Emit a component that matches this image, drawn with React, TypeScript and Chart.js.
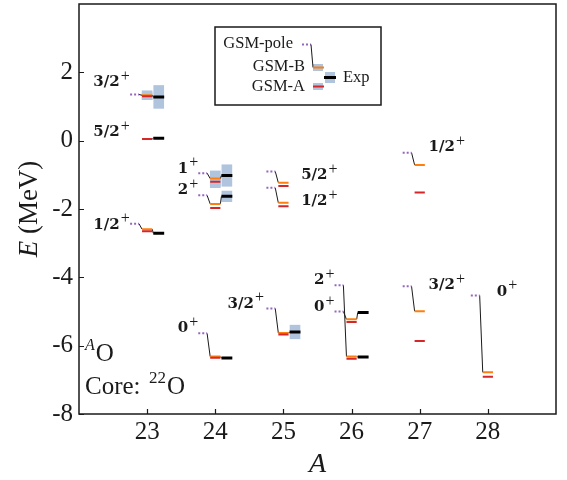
import React, { useEffect, useRef } from 'react';
import { Chart, registerables } from 'chart.js';

Chart.register(...registerables);

// ---- data ----
const massNumbers = [23, 23, 23, 24, 24, 24, 25, 25, 25, 26, 26, 27, 27, 28];
const spinParity = ['3/2', '5/2', '1/2', '1', '2', '0', '5/2', '1/2', '3/2', '2', '0', '1/2', '3/2', '0'];
const gsmPole = [1.35, null, -2.43, -0.95, -1.6, -5.64, -0.9, -1.38, -4.91, -4.23, -5.0, -0.35, -4.26, -4.53];
const gsmB = [1.33, null, -2.59, -1.11, -1.85, -6.32, -1.23, -1.82, -5.63, -6.32, -5.23, -0.71, -4.99, -6.78];
const gsmA = [1.3, 0.05, -2.65, -1.2, -1.97, -6.35, -1.33, -1.92, -5.67, -6.38, -5.31, -1.52, -5.86, -6.91];
const expE = [1.28, 0.07, -2.71, -1.02, -1.63, -6.36, null, null, -5.6, -6.33, -5.03, null, null, null];
const gsmBWidth = [0.26, 0, 0, 0.45, 0, 0, 0, 0, 0, 0, 0, 0, 0, 0];
const gsmAWidth = [0.2, 0, 0, 0.35, 0, 0, 0, 0, 0, 0, 0, 0, 0, 0];
const expWidth = [0.67, 0, 0, 0.63, 0.31, 0, 0, 0, 0.4, 0, 0, 0, 0, 0];
// label anchors (A, E) for the spin-parity annotations
const labelPosA = [22.21, 22.21, 22.21, 23.45, 23.45, 23.45, 25.26, 25.26, 24.18, 25.45, 25.45, 27.13, 27.13, 28.13];
const labelPosE = [1.7, 0.24, -2.46, -0.82, -1.46, -5.5, -1.02, -1.78, -4.77, -4.09, -4.88, -0.2, -4.24, -4.42];

const xTicks = [23, 24, 25, 26, 27, 28];
const yTicks = [-8, -6, -4, -2, 0, 2];
const X_MIN = 22, X_MAX = 29, Y_MIN = -8, Y_MAX = 4;

// ---- layout offsets (in A units) ----
const POLE_X0 = -0.25, POLE_X1 = -0.12;
const GSM_X0 = -0.075, GSM_X1 = 0.075;
const EXP_X0 = 0.09, EXP_X1 = 0.25;
const EXP_BOX_X = 0.17;

const PURPLE = '#9467bd';
const ORANGE = '#ff7f0e';
const RED = '#d62728';
const BOX = '#b0c4de';
const INK = '#1a1a1a';
const SERIF = "'Liberation Serif', 'Times New Roman', serif";
const BOLD_SERIF = "'DejaVu Serif', serif";

type Pt = { x: number; y: number | null };

function segments(vals: (number | null)[], x0: number, x1: number): Pt[] {
  const pts: Pt[] = [];
  vals.forEach((v, i) => {
    if (v == null) return;
    const a = massNumbers[i];
    pts.push({ x: a + x0, y: v }, { x: a + x1, y: v }, { x: a + x1, y: null });
  });
  return pts;
}

function connectors(): Pt[] {
  const pts: Pt[] = [];
  massNumbers.forEach((a, i) => {
    const g = gsmB[i] != null ? gsmB[i] : gsmA[i];
    const p = gsmPole[i];
    const e = expE[i];
    if (p != null && g != null) pts.push({ x: a + POLE_X1, y: p }, { x: a + GSM_X0, y: g }, { x: a + GSM_X0, y: null });
    if (g != null && e != null) pts.push({ x: a + GSM_X1, y: g }, { x: a + EXP_X0, y: e }, { x: a + EXP_X0, y: null });
  });
  return pts;
}

function boxes(vals: (number | null)[], widths: number[], dx: number) {
  const out: { x: number; y: [number, number] }[] = [];
  vals.forEach((v, i) => {
    if (v == null || !widths[i]) return;
    out.push({ x: massNumbers[i] + dx, y: [v - widths[i] / 2, v + widths[i] / 2] });
  });
  return out;
}

function drawSup(ctx: CanvasRenderingContext2D, x: number, y: number, main: string, mainFont: string, sup: string, supFont: string, rise: number, supFirst = false) {
  ctx.textBaseline = 'middle';
  ctx.textAlign = 'left';
  if (supFirst) {
    ctx.font = supFont;
    ctx.fillText(sup, x, y - rise);
    const w = ctx.measureText(sup).width;
    ctx.font = mainFont;
    ctx.fillText(main, x + w + 1, y);
  } else {
    ctx.font = mainFont;
    ctx.fillText(main, x, y);
    const w = ctx.measureText(main).width;
    ctx.font = supFont;
    ctx.fillText(sup, x + w + 1, y - rise);
  }
}

const decorPlugin = {
  id: 'decor',
  afterDatasetsDraw(chart: any) {
    const ctx: CanvasRenderingContext2D = chart.ctx;
    const xs = chart.scales.x;
    const ys = chart.scales.y;
    const area = chart.chartArea;
    ctx.save();
    ctx.fillStyle = INK;

    // spin-parity labels
    spinParity.forEach((lab, i) => {
      const px = xs.getPixelForValue(labelPosA[i]);
      const py = ys.getPixelForValue(labelPosE[i]);
      drawSup(ctx, px, py, lab, `bold 15px ${BOLD_SERIF}`, '+', `16px ${SERIF}`, 6);
    });

    // annotations
    ctx.fillStyle = INK;
    drawSup(ctx, 85, 354, 'O', `25px ${SERIF}`, 'A', `italic 16px ${SERIF}`, 8, true);
    ctx.font = `25px ${SERIF}`;
    ctx.textAlign = 'left';
    ctx.textBaseline = 'middle';
    ctx.fillText('Core:', 85, 387);
    drawSup(ctx, 149, 387, 'O', `25px ${SERIF}`, '22', `17px ${SERIF}`, 8, true);

    // frame
    ctx.strokeStyle = INK;
    ctx.lineWidth = 1.5;
    ctx.strokeRect(area.left, area.top, area.right - area.left, area.bottom - area.top);
    // inward ticks
    ctx.lineWidth = 1.2;
    ctx.beginPath();
    xTicks.forEach((t) => {
      const px = Math.round(xs.getPixelForValue(t)) + 0.5;
      ctx.moveTo(px, area.bottom);
      ctx.lineTo(px, area.bottom - 5);
    });
    yTicks.forEach((t) => {
      const py = Math.round(ys.getPixelForValue(t)) + 0.5;
      ctx.moveTo(area.left, py);
      ctx.lineTo(area.left + 5, py);
    });
    ctx.stroke();

    // axis titles
    ctx.save();
    ctx.translate(30, (area.top + area.bottom) / 2);
    ctx.rotate(-Math.PI / 2);
    ctx.textBaseline = 'middle';
    ctx.font = `italic 27px ${SERIF}`;
    const eW = ctx.measureText('E').width;
    ctx.font = `27px ${SERIF}`;
    const rest = ' (MeV)';
    const rW = ctx.measureText(rest).width;
    const start = -(eW + rW) / 2;
    ctx.font = `italic 27px ${SERIF}`;
    ctx.textAlign = 'left';
    ctx.fillText('E', start, 0);
    ctx.font = `27px ${SERIF}`;
    ctx.fillText(rest, start + eW, 0);
    ctx.restore();

    ctx.font = `italic 28px ${SERIF}`;
    ctx.textAlign = 'center';
    ctx.textBaseline = 'middle';
    ctx.fillText('A', (area.left + area.right) / 2, 465);

    // legend
    const lx = 215, ly = 27, lw = 166, lh = 78;
    ctx.fillStyle = '#ffffff';
    ctx.fillRect(lx, ly, lw, lh);
    ctx.strokeStyle = INK;
    ctx.lineWidth = 1.5;
    ctx.strokeRect(lx, ly, lw, lh);
    ctx.fillStyle = INK;
    ctx.font = `16.5px ${SERIF}`;
    ctx.textAlign = 'right';
    ctx.textBaseline = 'middle';
    ctx.fillText('GSM-pole', 293, 44);
    ctx.fillText('GSM-B', 305, 67);
    ctx.fillText('GSM-A', 305, 87);
    ctx.textAlign = 'left';
    ctx.fillText('Exp', 343, 78);
    // legend boxes
    ctx.fillStyle = BOX;
    ctx.fillRect(313, 64, 10, 7);
    ctx.fillRect(313, 83, 10, 7);
    ctx.fillRect(325, 72, 10, 11);
    // legend lines
    ctx.setLineDash([2, 2]);
    ctx.strokeStyle = PURPLE;
    ctx.lineWidth = 2;
    ctx.beginPath();
    ctx.moveTo(302, 44.5);
    ctx.lineTo(311, 44.5);
    ctx.stroke();
    ctx.setLineDash([]);
    ctx.strokeStyle = INK;
    ctx.lineWidth = 1;
    ctx.beginPath();
    ctx.moveTo(311, 44.5);
    ctx.lineTo(313, 67.5);
    ctx.stroke();
    ctx.lineWidth = 2;
    ctx.strokeStyle = ORANGE;
    ctx.beginPath();
    ctx.moveTo(313, 67.5);
    ctx.lineTo(324, 67.5);
    ctx.stroke();
    ctx.strokeStyle = RED;
    ctx.beginPath();
    ctx.moveTo(313, 86.5);
    ctx.lineTo(324, 86.5);
    ctx.stroke();
    ctx.strokeStyle = '#000';
    ctx.lineWidth = 3;
    ctx.beginPath();
    ctx.moveTo(324, 77.5);
    ctx.lineTo(336, 77.5);
    ctx.stroke();

    ctx.restore();
  },
};

export default function App() {
  const canvasRef = useRef<HTMLCanvasElement | null>(null);

  useEffect(() => {
    if (!canvasRef.current) return;
    const lineDs = (label: string, data: Pt[], color: string, width: number, extra: any = {}) => ({
      type: 'line' as const,
      label,
      data,
      borderColor: color,
      backgroundColor: color,
      borderWidth: width,
      pointRadius: 0,
      pointHoverRadius: 0,
      spanGaps: false,
      fill: false,
      tension: 0,
      borderCapStyle: 'butt',
      order: 1,
      ...extra,
    });
    const barDs = (label: string, data: any[]) => ({
      type: 'bar' as const,
      label,
      data,
      backgroundColor: BOX,
      borderWidth: 0,
      barThickness: 10,
      grouped: false,
      order: 10,
    });

    const chart = new Chart(canvasRef.current, {
      type: 'line',
      data: {
        datasets: [
          barDs('GSM-B width', boxes(gsmB, gsmBWidth, 0)),
          barDs('GSM-A width', boxes(gsmA, gsmAWidth, 0)),
          barDs('Exp width', boxes(expE, expWidth, EXP_BOX_X)),
          lineDs('connectors', connectors(), INK, 1, { order: 3 }),
          lineDs('GSM-pole', segments(gsmPole, POLE_X0, POLE_X1), PURPLE, 2, { borderDash: [2, 2], order: 2 }),
          lineDs('GSM-B', segments(gsmB, GSM_X0, GSM_X1), ORANGE, 2, { order: 1 }),
          lineDs('GSM-A', segments(gsmA, GSM_X0, GSM_X1), RED, 2, { order: 0 }),
          lineDs('Exp', segments(expE, EXP_X0, EXP_X1), '#000000', 3, { order: 0 }),
        ] as any,
      },
      options: {
        responsive: false,
        animation: false,
        devicePixelRatio: 1,
        events: [],
        layout: { padding: { top: 4, right: 11, left: 0, bottom: 0 } },
        plugins: { legend: { display: false }, tooltip: { enabled: false } },
        scales: {
          x: {
            type: 'linear',
            min: X_MIN,
            max: X_MAX,
            offset: false,
            grid: { display: false, drawTicks: false },
            border: { display: false },
            afterBuildTicks: (s: any) => {
              s.ticks = xTicks.map((v) => ({ value: v }));
            },
            afterFit: (s: any) => {
              s.height = 66;
              s.paddingLeft = 0;
              s.paddingRight = 0;
            },
            ticks: {
              padding: 3,
              color: INK,
              font: { family: SERIF, size: 25 },
              callback: (v: any) => String(v),
              maxRotation: 0,
              autoSkip: false,
            },
          },
          y: {
            type: 'linear',
            min: Y_MIN,
            max: Y_MAX,
            grid: { display: false, drawTicks: false },
            border: { display: false },
            afterBuildTicks: (s: any) => {
              s.ticks = yTicks.map((v) => ({ value: v }));
            },
            afterFit: (s: any) => {
              s.width = 79;
              s.paddingTop = 0;
              s.paddingBottom = 0;
            },
            ticks: {
              padding: 6,
              color: INK,
              font: { family: SERIF, size: 25 },
              callback: (v: any) => String(v),
              autoSkip: false,
            },
          },
        },
      } as any,
      plugins: [decorPlugin],
    });
    return () => chart.destroy();
  }, []);

  return (
    <div style={{ position: 'fixed', left: 0, top: 0, width: 567, height: 480, background: '#fff' }}>
      <canvas ref={canvasRef} width={567} height={480} style={{ width: 567, height: 480, display: 'block' }} />
    </div>
  );
}
